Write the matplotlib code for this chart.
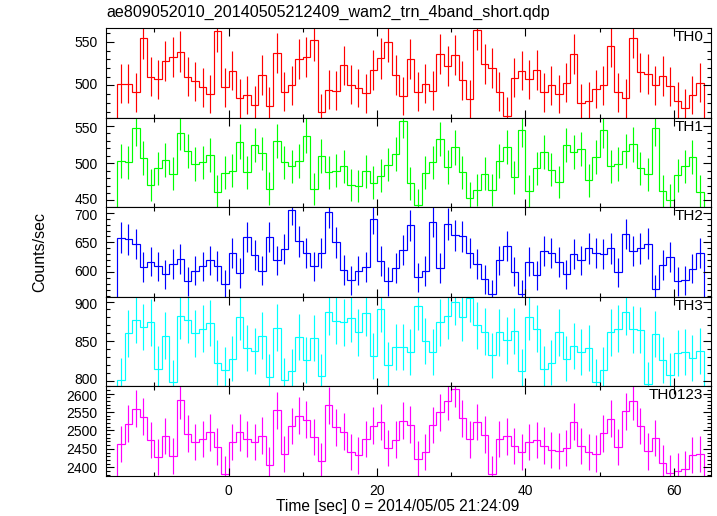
import numpy as np
import matplotlib
matplotlib.use('Agg')
import matplotlib.pyplot as plt
from matplotlib.ticker import MultipleLocator
from matplotlib.transforms import ScaledTranslation

plt.rcParams['font.family'] = ['Liberation Sans', 'DejaVu Sans']

# time bins: 1 s wide, first bin starts at -15 s
t_start = -15.0
bin_width = 1.0

th0 = [502, 502, 492, 554, 510, 507, 528, 533, 539, 510,
       505, 498, 490, 562, 498, 517, 485, 489, 478, 512,
       476, 537, 493, 500, 530, 533, 552, 469, 495, 494,
       523, 501, 497, 491, 518, 531, 550, 512, 488, 530,
       493, 502, 494, 536, 522, 535, 506, 484, 564, 525,
       520, 493, 465, 509, 517, 507, 518, 492, 500, 490,
       503, 536, 480, 482, 496, 500, 545, 492, 485, 555,
       515, 513, 500, 511, 499, 482, 474, 489, 503]

th1 = [503, 501, 547, 507, 471, 493, 504, 486, 541, 516,
       499, 501, 511, 462, 487, 490, 529, 488, 524, 513,
       466, 530, 501, 496, 503, 537, 465, 510, 488, 490,
       496, 471, 469, 489, 474, 483, 498, 512, 557, 473,
       444, 487, 501, 532, 495, 521, 488, 454, 464, 486,
       464, 503, 522, 481, 545, 463, 493, 515, 491, 475,
       524, 515, 519, 477, 508, 544, 496, 499, 516, 525,
       493, 485, 547, 463, 451, 484, 496, 508, 462]

th2 = [658, 655, 647, 609, 618, 610, 597, 614, 622, 585,
       603, 610, 620, 611, 580, 633, 599, 659, 629, 603,
       659, 620, 639, 705, 652, 633, 610, 632, 701, 650,
       604, 587, 603, 609, 690, 619, 585, 607, 638, 679,
       592, 602, 685, 607, 681, 662, 660, 633, 614, 588,
       563, 620, 644, 601, 563, 618, 595, 635, 633, 617,
       597, 631, 620, 640, 633, 631, 640, 600, 664, 635,
       640, 648, 572, 612, 626, 585, 587, 606, 632]

th3 = [801, 860, 877, 868, 874, 815, 857, 798, 882, 877,
       860, 866, 873, 823, 814, 828, 881, 842, 838, 857,
       805, 867, 801, 812, 855, 826, 854, 806, 887, 876,
       874, 879, 861, 886, 831, 891, 820, 843, 843, 836,
       894, 850, 836, 874, 882, 900, 880, 904, 870, 862,
       832, 861, 851, 863, 812, 881, 866, 815, 823, 861,
       828, 844, 836, 841, 799, 814, 861, 866, 887, 865,
       864, 796, 859, 826, 807, 835, 836, 829, 838]

th0123 = [2463, 2518, 2559, 2538, 2474, 2428, 2485, 2431, 2582, 2491,
          2468, 2477, 2495, 2456, 2381, 2468, 2495, 2477, 2469, 2486,
          2407, 2555, 2435, 2512, 2540, 2529, 2482, 2418, 2569, 2509,
          2497, 2441, 2432, 2477, 2513, 2523, 2452, 2475, 2527, 2516,
          2423, 2442, 2515, 2549, 2579, 2614, 2533, 2476, 2523, 2489,
          2381, 2477, 2484, 2458, 2441, 2469, 2474, 2459, 2447, 2445,
          2453, 2524, 2457, 2441, 2437, 2492, 2532, 2455, 2552, 2579,
          2512, 2443, 2479, 2411, 2384, 2389, 2395, 2433, 2436]

names = ['TH0', 'TH1', 'TH2', 'TH3', 'TH0123']
series = [th0, th1, th2, th3, th0123]
colors = ['#ff0000', '#00ff00', '#0000ff', '#00ffff', '#ff00ff']
ylims = [(463, 566), (441, 561), (559, 709), (793, 906), (2376, 2620)]

fig, axes = plt.subplots(5, 1, sharex=True, figsize=(7.17, 5.16), dpi=100)
fig.subplots_adjust(left=0.148, right=0.9916, top=0.9457, bottom=0.0775, hspace=0)

for ax, name, vals, c, yl in zip(axes, names, series, colors, ylims):
    vals = np.array(vals, dtype=float)
    edges = t_start + bin_width * np.arange(len(vals) + 1)
    centers = 0.5 * (edges[:-1] + edges[1:])
    # counting errors for 1 s bins
    err = np.sqrt(vals / bin_width)
    ax.stairs(vals, edges, color=c, lw=0.85)
    ax.errorbar(centers, vals, yerr=err, fmt='none', ecolor=c, elinewidth=0.85)
    ax.set_ylim(*yl)
    ax.set_xlim(-16.5, 65)
    ax.yaxis.set_major_locator(MultipleLocator(50))
    ax.yaxis.set_minor_locator(MultipleLocator(10))
    ax.xaxis.set_major_locator(MultipleLocator(20))
    ax.xaxis.set_minor_locator(MultipleLocator(10))
    ax.tick_params(which='both', direction='in', top=True, right=True, labelsize=10, pad=6)
    ax.tick_params(which='major', length=6, width=0.8)
    ax.tick_params(which='minor', length=3, width=0.8)
    ax.text(0.987, 0.9, name, transform=ax.transAxes, ha='right', va='center', fontsize=11)

# nudge labels that sit right at a panel boundary so they do not collide
nudge = 1.5 / 72
for i, ax in enumerate(axes):
    locs = list(ax.yaxis.get_majorticklocs())
    ticks = ax.yaxis.get_major_ticks(len(locs))
    lo, hi = ax.get_ylim()
    inside = [k for k, v in enumerate(locs) if lo <= v <= hi]
    if i < len(axes) - 1:
        lab = ticks[inside[0]].label1
        lab.set_transform(lab.get_transform() + ScaledTranslation(0, nudge, fig.dpi_scale_trans))
    if i > 0:
        lab = ticks[inside[-1]].label1
        lab.set_transform(lab.get_transform() + ScaledTranslation(0, -nudge, fig.dpi_scale_trans))

fig.text(0.148, 1 - 12 / 516, 'ae809052010_20140505212409_wam2_trn_4band_short.qdp',
         ha='left', va='center', fontsize=11.6)
fig.text(40 / 717, 0.512, 'Counts/sec', rotation=90, ha='center', va='center', fontsize=11.5)
fig.text(398 / 717, 1 - 507 / 516, 'Time [sec] 0 = 2014/05/05 21:24:09',
         ha='center', va='center', fontsize=11.2)

fig.savefig('out.png', dpi=100)
